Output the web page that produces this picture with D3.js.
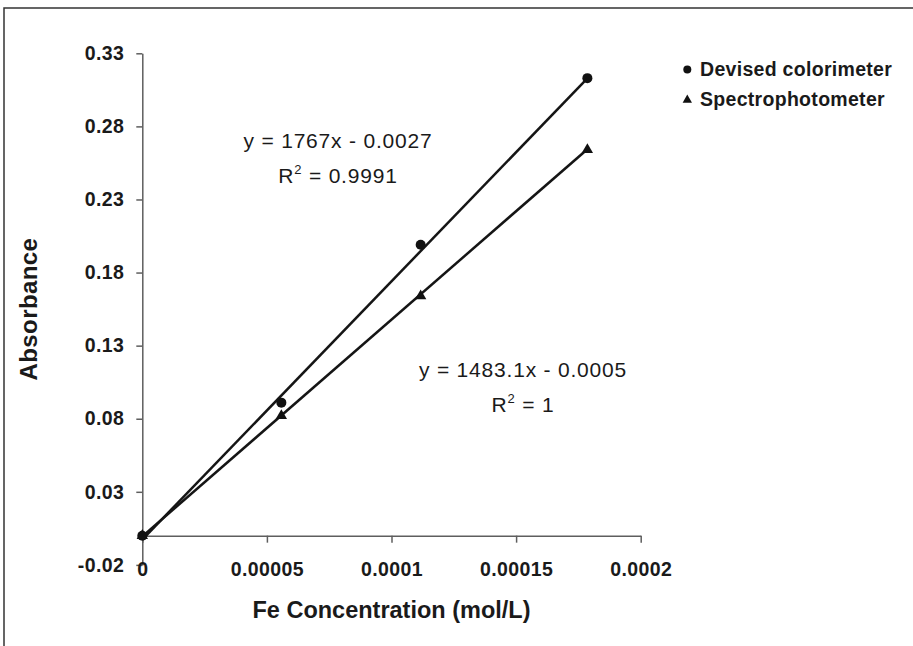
<!DOCTYPE html>
<html>
<head>
<meta charset="utf-8">
<script src="https://cdn.jsdelivr.net/npm/d3@7"></script>
<style>
    body { margin: 0; background: #fff; }
    svg { display: block; font-family: "Liberation Sans", Arial, sans-serif; }
</style>
</head>
<body>
<div id="container"></div>
<script>

// Fe concentration (mol/L) of the standards
const concentration = [0, 0.0000558, 0.0001117, 0.0001786];

// absorbance readings
const colorimeter = [0, 0.091, 0.199, 0.313];
const spectrophotometer = [0, 0.082, 0.164, 0.264];

// linear fits shown on the chart: [slope, intercept]
const colorimeterFit = [1767, -0.0027];
const spectroFit = [1483.1, -0.0005];

const seriesNames = ["Devised colorimeter", "Spectrophotometer"];

const yTicks = [-0.02, 0.03, 0.08, 0.13, 0.18, 0.23, 0.28, 0.33];
const yTickLabels = ["-0.02", "0.03", "0.08", "0.13", "0.18", "0.23", "0.28", "0.33"];
const xTicks = [0, 0.00005, 0.0001, 0.00015, 0.0002];
const xTickLabels = ["0", "0.00005", "0.0001", "0.00015", "0.0002"];

const width = 913;
const height = 646;

const x = d3.scaleLinear()
    .domain([0, 0.0002])
    .range([142.3, 640.7]);

const y = d3.scaleLinear()
    .domain([-0.02, 0.33])
    .range([564.9, 53.3]);

const svg = d3.select("#container").append("svg")
    .attr("width", width)
    .attr("height", height);

// outer frame (only top and left edges show)
svg.append("path")
    .attr("d", `M4,646 L4,8 L913,8`)
    .attr("fill", "none")
    .attr("stroke", "#333")
    .attr("stroke-width", 1.5);

// y axis
const yAxis = svg.append("g")
    .attr("transform", `translate(${x(0)},0)`)
    .call(d3.axisLeft(y)
        .tickValues(yTicks)
        .tickFormat((d, i) => yTickLabels[i])
        .tickSize(6)
        .tickSizeOuter(0)
        .tickPadding(12));

// x axis crosses at y = 0
const xAxis = svg.append("g")
    .attr("transform", `translate(0,${y(0)})`)
    .call(d3.axisBottom(x)
        .tickValues(xTicks)
        .tickFormat((d, i) => xTickLabels[i])
        .tickSize(7)
        .tickSizeOuter(0)
        .tickPadding(19));

[yAxis, xAxis].forEach(g => {
    g.selectAll("path, line")
        .attr("stroke", "#5e5e5e")
        .attr("stroke-width", 1.5);
    g.selectAll("text")
        .attr("fill", "#1a1a1a")
        .style("font-size", "19.5px")
        .style("font-weight", "bold")
        .style("letter-spacing", "0.4px");
});

// axis titles
svg.append("text")
    .attr("x", x(0.0001))
    .attr("y", 618)
    .attr("text-anchor", "middle")
    .style("font-size", "23.5px")
    .style("font-weight", "bold")
    .attr("fill", "#1a1a1a")
    .text("Fe Concentration (mol/L)");

svg.append("text")
    .attr("transform", `translate(37,${(y(-0.02) + y(0.33)) / 2}) rotate(-90)`)
    .attr("text-anchor", "middle")
    .style("font-size", "24px")
    .style("font-weight", "bold")
    .style("letter-spacing", "0.4px")
    .attr("fill", "#1a1a1a")
    .text("Absorbance");

// trend lines
const xMax = d3.max(concentration);
[colorimeterFit, spectroFit].forEach(fit => {
    svg.append("line")
        .attr("x1", x(0))
        .attr("y1", y(fit[1]))
        .attr("x2", x(xMax))
        .attr("y2", y(fit[0] * xMax + fit[1]))
        .attr("stroke", "#151515")
        .attr("stroke-width", 2.5);
});

// markers
const circleData = concentration.map((c, i) => ({ c: c, a: colorimeter[i] }));
const triangleData = concentration.map((c, i) => ({ c: c, a: spectrophotometer[i] }));

svg.selectAll(".colorimeter-point")
    .data(circleData)
    .enter()
    .append("circle")
        .attr("class", "colorimeter-point")
        .attr("cx", d => x(d.c))
        .attr("cy", d => y(d.a))
        .attr("r", 5)
        .attr("fill", "#111");

const triangle = d3.symbol().type(d3.symbolTriangle).size(56);

svg.selectAll(".spectro-point")
    .data(triangleData)
    .enter()
    .append("path")
        .attr("class", "spectro-point")
        .attr("transform", d => `translate(${x(d.c)},${y(d.a)})`)
        .attr("d", triangle)
        .attr("fill", "#111");

// equations
function equation(cx, baseline, eqText, r2Text) {
    const g = svg.append("g")
        .style("font-size", "21px")
        .style("letter-spacing", "0.8px")
        .attr("fill", "#1a1a1a")
        .attr("text-anchor", "middle");
    g.append("text")
        .attr("x", cx)
        .attr("y", baseline)
        .text(eqText);
    const t = g.append("text")
        .attr("x", cx)
        .attr("y", baseline + 35);
    t.append("tspan").text("R");
    t.append("tspan")
        .attr("dy", -9)
        .style("font-size", "13px")
        .text("2");
    t.append("tspan")
        .attr("dy", 9)
        .text(" = " + r2Text);
}

equation(338, 148, "y = 1767x - 0.0027", "0.9991");
equation(523, 377, "y = 1483.1x - 0.0005", "1");

// legend
const legend = svg.append("g");

legend.append("circle")
    .attr("cx", 687.3)
    .attr("cy", 69.5)
    .attr("r", 4)
    .attr("fill", "#111");

legend.append("path")
    .attr("transform", "translate(687.3,100)")
    .attr("d", d3.symbol().type(d3.symbolTriangle).size(38))
    .attr("fill", "#111");

legend.selectAll("text")
    .data(seriesNames)
    .enter()
    .append("text")
        .attr("x", 700)
        .attr("y", (d, i) => 76 + i * 30)
        .style("font-size", "19.5px")
        .style("font-weight", "bold")
        .style("letter-spacing", "0.3px")
        .attr("fill", "#1a1a1a")
        .text(d => d);

</script>
</body>
</html>
